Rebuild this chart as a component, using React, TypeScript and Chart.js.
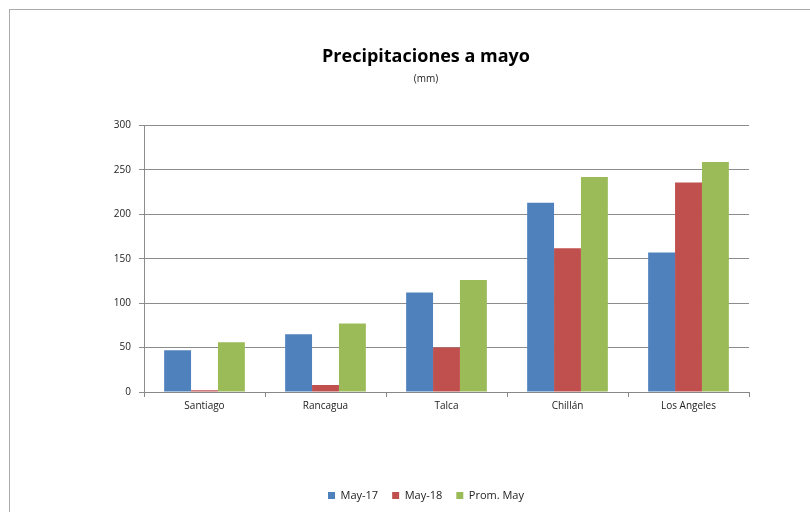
import React, { useEffect, useRef } from "react";
import { Chart, registerables } from "chart.js";

Chart.register(...registerables);

const categories = ["Santiago", "Rancagua", "Talca", "Chillán", "Los Angeles"];
const may17 = [47, 65, 112, 213, 157];
const may18 = [2, 8, 50, 162, 236];
const promMay = [56, 77, 126, 242, 259];
const seriesLabels = ["May-17", "May-18", "Prom. May"];
const seriesColors = ["#4F81BD", "#C0504D", "#9BBB59"];
const yMin = 0;
const yMax = 300;
const yStep = 50;
const titleText = "Precipitaciones a mayo";
const subtitleText = "(mm)";

const FONT = "'Open Sans', 'Noto Sans', sans-serif";

export default function App() {
  const canvasRef = useRef<HTMLCanvasElement | null>(null);

  useEffect(() => {
    const canvas = canvasRef.current;
    if (!canvas) return;
    const chart = new Chart(canvas, {
      type: "bar",
      data: {
        labels: categories,
        datasets: [may17, may18, promMay].map((d, i) => ({
          label: seriesLabels[i],
          data: d,
          backgroundColor: seriesColors[i],
          borderWidth: 0,
          barPercentage: 1,
          categoryPercentage: 0.667,
        })),
      },
      options: {
        responsive: false,
        animation: false,
        devicePixelRatio: 1,
        layout: { padding: { left: 93, right: 96, top: 0, bottom: 1 } },
        font: { family: FONT },
        plugins: {
          title: {
            display: true,
            text: titleText,
            color: "#000",
            font: { family: FONT, size: 18, weight: "bold" },
            padding: { top: 36, bottom: 6 },
          },
          subtitle: {
            display: true,
            text: subtitleText,
            color: "#222",
            font: { family: FONT, size: 10 },
            padding: { top: 0, bottom: 40 },
          },
          legend: {
            position: "bottom",
            labels: {
              boxWidth: 7,
              boxHeight: 7,
              padding: 14,
              color: "#222",
              font: { family: FONT, size: 11 },
            },
          },
          tooltip: { enabled: false },
        },
        scales: {
          x: {
            grid: {
              drawOnChartArea: false,
              drawTicks: true,
              tickLength: 5,
              color: "#888",
            },
            border: { color: "#888" },
            ticks: { color: "#222", font: { family: FONT, size: 10 }, padding: 3 },
            title: {
              display: true,
              text: " ",
              font: { family: FONT, size: 10 },
              padding: { top: 0, bottom: 49 },
            },
          },
          y: {
            min: yMin,
            max: yMax,
            afterFit: (scale: any) => {
              scale.width = 41;
            },
            grid: { color: "#8c8c8c", tickLength: 5 },
            border: { color: "#8c8c8c" },
            ticks: {
              stepSize: yStep,
              color: "#222",
              padding: 8,
              font: { family: FONT, size: 10 },
            },
          },
        },
      },
    });
    return () => chart.destroy();
  }, []);

  return (
    <div
      style={{
        position: "fixed",
        left: 0,
        top: 0,
        width: 810,
        height: 512,
        overflow: "hidden",
        background: "#fff",
      }}
    >
      <div
        style={{
          position: "absolute",
          left: 9,
          top: 9,
          width: 836,
          height: 540,
          borderTop: "1px solid #aaa",
          borderLeft: "1px solid #aaa",
          boxSizing: "border-box",
        }}
      >
        <canvas ref={canvasRef} width={835} height={502} style={{ display: "block" }} />
      </div>
    </div>
  );
}
